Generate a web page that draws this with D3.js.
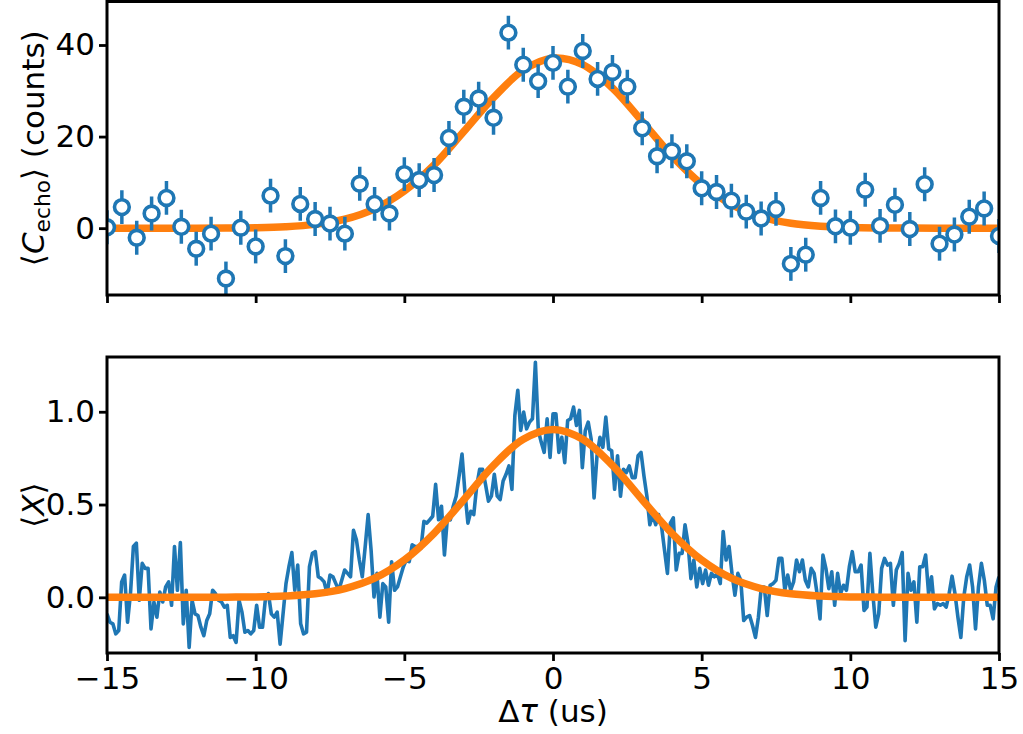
<!DOCTYPE html>
<html><head><meta charset="utf-8">
<script src="https://cdn.jsdelivr.net/npm/d3@7"></script>
<style>
body{margin:0;background:#fff}
svg{display:block}
text{font-family:"DejaVu Sans",sans-serif}
</style>
</head><body><svg id="c" width="1023" height="734"></svg>
<script>
// ---------------- DATA ----------------
const echoX = [-15,-14.5,-14,-13.5,-13,-12.5,-12,-11.5,-11,-10.5,-10,-9.5,-9,-8.5,-8,-7.5,-7,-6.5,-6,-5.5,-5,-4.5,-4,-3.5,-3,-2.5,-2,-1.5,-1,-0.5,0,0.5,1,1.5,2,2.5,3,3.5,4,4.5,5,5.5,6,6.5,7,7.5,8,8.5,9,9.5,10,10.5,11,11.5,12,12.5,13,13.5,14,14.5,15];
const echoCounts = [0.2,4.6,-2.1,3.2,6.6,0.3,-4.5,-1.2,-11.0,0.1,-4.0,7.1,-6.1,5.3,2.0,1.0,-1.2,9.7,5.3,3.2,11.8,10.5,11.6,19.7,26.5,28.3,24.1,42.7,35.7,32.1,36.1,30.9,38.7,32.6,34.1,30.9,21.8,15.7,16.8,14.6,8.7,7.9,6.0,3.6,2.1,4.2,-7.8,-5.8,6.6,0.4,0.1,8.4,0.5,5.1,-0.2,9.6,-3.4,-1.4,2.5,4.3,-1.7];
const echoErr = [3.7,3.7,3.7,3.7,3.7,3.7,3.7,3.7,3.7,3.7,3.7,3.7,3.7,3.7,3.7,3.7,3.7,3.7,3.7,3.7,3.7,3.7,3.7,3.7,3.7,3.7,3.7,3.7,3.7,3.7,3.7,3.7,3.7,3.7,3.7,3.7,3.7,3.7,3.7,3.7,3.7,3.7,3.7,3.7,3.7,3.7,3.7,3.7,3.7,3.7,3.7,3.7,3.7,3.7,3.7,3.7,3.7,3.7,3.7,3.7,3.7];

const fitX = [-15,-14,-13,-12,-11,-10,-9,-8,-7,-6,-5,-4,-3,-2,-1,0,1,2,3,4,5,6,7,8,9,10,11,12,13,14,15];
const echoFit = [0,0,0,0,0.03,0.10,0.31,0.82,1.96,4.23,8.10,13.8,21.1,28.5,34.5,37.1,35.7,30.6,23.3,15.8,9.6,5.2,2.5,1.08,0.42,0.14,0.04,0.01,0,0,0];
const xFit = [0,0,0,0,0.001,0.002,0.007,0.019,0.047,0.103,0.201,0.345,0.526,0.711,0.852,0.905,0.852,0.711,0.526,0.345,0.201,0.103,0.047,0.019,0.007,0.002,0.001,0,0,0,0];

const xSignal = [
-0.089,-0.134,-0.143,-0.197,-0.179,0.083,0.120,-0.134,0.020,0.274,0.292,-0.016,0.183,0.156,0.156,-0.170,-0.025,-0.107,0.029,-0.025,
0.056,0.083,-0.043,0.274,0.038,0.295,-0.143,0.038,-0.270,-0.016,-0.089,-0.098,-0.161,-0.207,-0.125,-0.089,0.038,0.020,-0.016,-0.025,
-0.053,-0.043,-0.216,-0.207,-0.243,-0.016,-0.080,-0.188,-0.179,-0.197,-0.179,-0.043,-0.161,-0.161,-0.007,0.020,-0.089,-0.107,-0.080,-0.252,
-0.089,0.074,0.165,0.241,0.038,0.174,-0.143,-0.197,-0.188,0.165,0.237,0.246,0.111,0.101,0.083,0.020,0.120,
0.111,0.074,0.038,0.092,0.147,0.129,0.111,0.361,0.310,0.201,0.111,0.274,0.446,0.255,0.002,0.129,-0.107,0.074,0.056,-0.134,
0.192,0.038,0.056,0.111,0.165,0.201,0.192,0.283,0.274,0.274,0.264,0.409,0.400,0.418,0.437,0.609,0.418,0.491,0.228,0.428,
0.418,0.491,0.545,0.654,0.772,0.563,0.400,0.464,0.446,0.600,0.690,0.690,0.609,0.518,0.545,0.663,0.545,0.527,0.627,0.663,
0.708,0.582,0.980,1.116,0.899,0.998,0.908,0.944,0.962,1.266,0.899,0.835,0.781,0.962,0.754,0.989,
0.989,0.781,0.862,0.726,0.953,0.962,1.025,0.926,1.007,0.699,0.899,0.944,0.853,0.536,0.763,0.862,0.808,0.971,0.799,0.790,
0.582,0.763,0.545,0.690,0.672,0.708,0.645,0.645,0.763,0.781,0.654,0.545,0.391,0.446,0.391,0.446,0.382,0.255,0.129,0.400,
0.428,0.147,0.237,0.237,0.391,0.292,0.101,0.201,0.056,0.156,0.074,0.147,0.065,0.129,0.111,0.129,0.074,0.355,0.201,0.274,
0.129,0.011,0.129,0.092,-0.125,-0.107,-0.098,-0.152,-0.216,-0.107,0.056,0.056,-0.098,0.065,0.074,0.092,0.210,
0.210,0.038,0.120,0.038,0.083,0.201,0.138,0.201,0.092,0.056,0.156,0.129,0.020,-0.116,0.228,0.156,0.047,0.138,-0.043,0.129,
0.020,0.065,0.038,0.165,0.246,0.138,0.138,0.174,-0.071,-0.053,0.237,0.020,-0.161,-0.089,0.156,0.210,0.174,0.183,-0.043,0.147,
0.183,0.241,-0.234,0.129,0.038,0.083,-0.134,0.165,0.165,0.228,0.020,0.111,-0.062,-0.034,-0.043,-0.034,-0.053,0.020,0.114,0.020,
-0.107,-0.216,0.002,0.111,0.174,0.056,-0.170,0.056,0.183,0.092,-0.043,-0.043,-0.116,0.056,0.111
];

const xTicks = [-15,-10,-5,0,5,10,15];
const echoTicks = [0,20,40];
const xSigTicks = [0.0,0.5,1.0];

// ---------------- LAYOUT ----------------
const BLUE = "#1f77b4", ORANGE = "#ff7f0e";
const svg = d3.select("#c");
const L = 107, R = 999;
const top1 = 1.5, bot1 = 295;
const top2 = 357, bot2 = 653;
const FS = 31;

const x = d3.scaleLinear().domain([-15, 15]).range([L, R]);
const y1 = d3.scaleLinear().domain([-14.6, 49.5]).range([bot1, top1]);
const y2 = d3.scaleLinear().domain([-0.30, 1.295]).range([bot2, top2]);

const defs = svg.append("defs");
defs.append("clipPath").attr("id", "clip1").append("rect")
  .attr("x", L).attr("y", top1).attr("width", R - L).attr("height", bot1 - top1);
defs.append("clipPath").attr("id", "clip2").append("rect")
  .attr("x", L).attr("y", top2).attr("width", R - L).attr("height", bot2 - top2);

function styleAxis(g) {
  g.select(".domain").remove();
  g.selectAll(".tick line").attr("stroke", "#000").attr("stroke-width", 2.8);
  g.selectAll(".tick text").attr("font-size", FS).attr("fill", "#000")
    .attr("font-family", "DejaVu Sans, sans-serif");
}

// ---------- Top panel ----------
const p1 = svg.append("g").attr("clip-path", "url(#clip1)");
const fitLine1 = d3.line().x((d, i) => x(fitX[i])).y(d => y1(d)).curve(d3.curveCatmullRom);
p1.append("path").datum(echoFit).attr("d", fitLine1)
  .attr("fill", "none").attr("stroke", ORANGE).attr("stroke-width", 7.5);

const pts = echoX.map((v, i) => ({ x: v, y: echoCounts[i], e: echoErr[i] }));
p1.selectAll("line.err").data(pts).join("line").attr("class", "err")
  .attr("x1", d => x(d.x)).attr("x2", d => x(d.x))
  .attr("y1", d => y1(d.y - d.e)).attr("y2", d => y1(d.y + d.e))
  .attr("stroke", BLUE).attr("stroke-width", 3.5);
p1.selectAll("circle").data(pts).join("circle")
  .attr("cx", d => x(d.x)).attr("cy", d => y1(d.y)).attr("r", 7.4)
  .attr("fill", "#fff").attr("stroke", BLUE).attr("stroke-width", 3.6);

svg.append("g").attr("transform", `translate(0,${bot1})`)
  .call(d3.axisBottom(x).tickValues(xTicks).tickSize(8).tickFormat(""))
  .call(styleAxis);
svg.append("g").attr("transform", `translate(${L},0)`)
  .call(d3.axisLeft(y1).tickValues(echoTicks).tickSize(8).tickPadding(4).tickFormat(d3.format("d")))
  .call(styleAxis);
svg.append("rect").attr("x", L).attr("y", top1).attr("width", R - L).attr("height", bot1 - top1)
  .attr("fill", "none").attr("stroke", "#000").attr("stroke-width", 3);

// y label top
const yl1 = svg.append("text").attr("transform", `translate(44,${(top1 + bot1) / 2}) rotate(-90)`)
  .attr("text-anchor", "middle").attr("font-size", FS).attr("fill", "#000");
yl1.append("tspan").text("⟨");
yl1.append("tspan").attr("font-style", "italic").text("C");
yl1.append("tspan").attr("font-size", FS * 0.7).attr("dy", 6).text("echo");
yl1.append("tspan").attr("dy", -6).text("⟩ (counts)");

// ---------- Bottom panel ----------
const p2 = svg.append("g").attr("clip-path", "url(#clip2)");
const n = xSignal.length;
const sigLine = d3.line().x((d, i) => x(-15 + 30 * i / (n - 1))).y(d => y2(d));
p2.append("path").datum(xSignal).attr("d", sigLine)
  .attr("fill", "none").attr("stroke", BLUE).attr("stroke-width", 3.6).attr("stroke-linejoin", "round");
const fitLine2 = d3.line().x((d, i) => x(fitX[i])).y(d => y2(d)).curve(d3.curveCatmullRom);
p2.append("path").datum(xFit).attr("d", fitLine2)
  .attr("fill", "none").attr("stroke", ORANGE).attr("stroke-width", 7.5);

svg.append("g").attr("transform", `translate(0,${bot2})`)
  .call(d3.axisBottom(x).tickValues(xTicks).tickSize(8).tickPadding(6).tickFormat(d3.format("d")))
  .call(styleAxis);
svg.append("g").attr("transform", `translate(${L},0)`)
  .call(d3.axisLeft(y2).tickValues(xSigTicks).tickSize(8).tickPadding(4).tickFormat(d3.format(".1f")))
  .call(styleAxis);
svg.append("rect").attr("x", L).attr("y", top2).attr("width", R - L).attr("height", bot2 - top2)
  .attr("fill", "none").attr("stroke", "#000").attr("stroke-width", 3);

const yl2 = svg.append("text").attr("transform", `translate(44,${(top2 + bot2) / 2}) rotate(-90)`)
  .attr("text-anchor", "middle").attr("font-size", FS).attr("fill", "#000");
yl2.append("tspan").text("⟨");
yl2.append("tspan").attr("font-style", "italic").text("X");
yl2.append("tspan").text("⟩");

const xl = svg.append("text").attr("x", (L + R) / 2).attr("y", 722)
  .attr("text-anchor", "middle").attr("font-size", FS).attr("fill", "#000");
xl.append("tspan").text("Δ");
xl.append("tspan").attr("font-style", "italic").text("τ");
xl.append("tspan").text(" (us)");
</script></body></html>
